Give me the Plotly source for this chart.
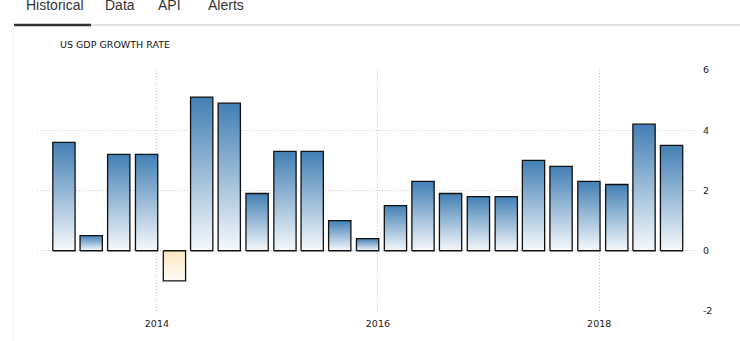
import pandas as pd
import plotly.graph_objects as go

quarters = ["2013Q1", "2013Q2", "2013Q3", "2013Q4",
            "2014Q1", "2014Q2", "2014Q3", "2014Q4",
            "2015Q1", "2015Q2", "2015Q3", "2015Q4",
            "2016Q1", "2016Q2", "2016Q3", "2016Q4",
            "2017Q1", "2017Q2", "2017Q3", "2017Q4",
            "2018Q1", "2018Q2", "2018Q3"]
gdp_growth = [3.6, 0.5, 3.2, 3.2,
              -1.0, 5.1, 4.9, 1.9,
              3.3, 3.3, 1.0, 0.4,
              1.5, 2.3, 1.9, 1.8,
              1.8, 3.0, 2.8, 2.3,
              2.2, 4.2, 3.5]
tab_labels = ["Historical", "Data", "API", "Alerts"]
chart_title = "US GDP GROWTH RATE"
y_ticks = [-2, 0, 2, 4, 6]
y_tick_text = ["-2", "0", "2", "4", "6"]

# geometry / style constants
CENTER_OFFSET = pd.Timedelta(days=58)
HALF_WIDTH = pd.Timedelta(hours=int(36.8 * 24))
POS_SCALE = [[0, "rgb(246,249,252)"], [1, "rgb(66,127,180)"]]
NEG_SCALE = [[0, "rgb(255,252,246)"], [1, "rgb(250,230,192)"]]

fig = go.Figure()
for q, v in zip(quarters, gdp_growth):
    c = pd.Period(q, freq="Q").start_time + CENTER_OFFSET
    l = (c - HALF_WIDTH).strftime("%Y-%m-%d %H:%M")
    r = (c + HALF_WIDTH).strftime("%Y-%m-%d %H:%M")
    fig.add_trace(go.Scatter(
        x=[l, l, r, r, l], y=[0, v, v, 0, 0],
        mode="lines", fill="toself",
        fillgradient=dict(type="vertical",
                          colorscale=POS_SCALE if v >= 0 else NEG_SCALE),
        line=dict(color="#111111", width=1.3),
        hoverinfo="skip", showlegend=False, name=q))

# plot area pixel mapping helpers (for decorations only)
L, R, T, B = 37, 43, 70, 30
W, H = 740 - L - R, 341 - T - B
def px(xp):
    return (xp - L) / W
def py(yp):
    return (341 - B - yp) / H

annotations = []
tab_x = [24, 103, 156, 206]
for lbl, xp in zip(tab_labels, tab_x):
    annotations.append(dict(text=lbl, x=px(xp), y=py(5), xref="paper", yref="paper",
                            xanchor="left", yanchor="middle", showarrow=False,
                            font=dict(family="Liberation Sans, Arial", size=14, color="#333333")))
annotations.append(dict(text=chart_title, x=px(58), y=py(45), xref="paper", yref="paper",
                        xanchor="left", yanchor="middle", showarrow=False,
                        font=dict(family="DejaVu Sans", size=9.5, color="#111111")))

shapes = [
    dict(type="line", xref="paper", yref="paper", x0=px(91), x1=px(740), y0=py(25), y1=py(25),
         line=dict(color="#dddddd", width=1.5)),
    dict(type="line", xref="paper", yref="paper", x0=px(14), x1=px(91), y0=py(25), y1=py(25),
         line=dict(color="#333333", width=2.5)),
    dict(type="line", xref="paper", yref="paper", x0=px(13), x1=px(13), y0=py(26), y1=py(341),
         line=dict(color="#f0f0f0", width=1)),
]

GRID_DASH = "1px,2px"
fig.update_layout(
    width=740, height=341,
    margin=dict(l=L, r=R, t=T, b=B),
    paper_bgcolor="white", plot_bgcolor="white",
    annotations=annotations, shapes=shapes,
    xaxis=dict(type="date", range=["2012-12-01", "2018-11-20"],
               tick0="2014-01-01", dtick="M24", tickformat="%Y",
               showgrid=True, gridcolor="#c8c8c8", griddash=GRID_DASH, gridwidth=1,
               zeroline=False, showline=False,
               ticks="outside", ticklen=4, tickcolor="rgba(0,0,0,0)",
               tickfont=dict(family="DejaVu Sans", size=9.5, color="#222222")),
    yaxis=dict(range=[-2, 6], tickvals=y_ticks, ticktext=y_tick_text, side="right",
               showgrid=True, gridcolor="#c8c8c8", griddash=GRID_DASH, gridwidth=1,
               zeroline=False, showline=False,
               ticks="outside", ticklen=3, tickcolor="rgba(0,0,0,0)",
               tickfont=dict(family="DejaVu Sans", size=9.5, color="#222222")),
)

fig.write_html("out.html")
